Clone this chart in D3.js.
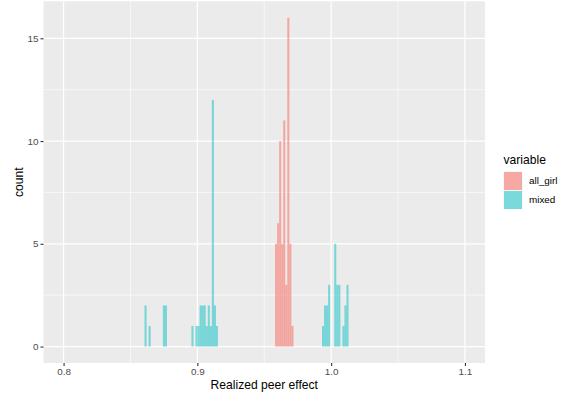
<!DOCTYPE html>
<html>
<head>
  <meta charset="utf-8">
  <title>Realized peer effect histogram</title>
  <script src="https://d3js.org/d3.v7.min.js"></script>
  <style>
    body { margin: 0; background: #fff; }
    text { font-family: "Liberation Sans", Arial, Helvetica, sans-serif; }
  </style>
</head>
<body>
  <script>
    // histogram bins (bins = 100 over the pooled data)
    var binStart = 0.8605;
    var binWidth = 0.001525;

    var allGirlBins   = [64, 65, 66, 67, 68, 69, 70, 71, 72];
    var allGirlCounts = [5, 6, 10, 5, 11, 3, 16, 5, 1];

    var mixedBins   = [0, 2, 9, 10,
                       23, 25, 26, 27, 28, 29, 30, 31, 32, 33, 34, 35,
                       87, 88, 89, 90, 93, 94, 95, 97, 98, 99];
    var mixedCounts = [2, 1, 2, 2,
                       1, 1, 1, 2, 2, 2, 1, 2, 1, 12, 2, 1,
                       1, 2, 2, 3, 5, 3, 3, 1, 2, 3];

    var seriesNames = ["all_girl", "mixed"];
    var seriesColors = ["#F8766D", "#00BFC4"];
    var seriesAlpha = [0.6, 0.5];

    var xTicks = [0.8, 0.9, 1.0, 1.1];
    var xMinor = [0.85, 0.95, 1.05];
    var yTicks = [0, 5, 10, 15];
    var yMinor = [2.5, 7.5, 12.5];

    var width = 562, height = 398;
    var panel = { left: 43.5, right: 485, top: 1.3, bottom: 363 };

    var svg = d3.select("body").append("svg")
      .attr("width", width).attr("height", height);

    var x = d3.scaleLinear().domain([0.785, 1.115]).range([panel.left, panel.right]);
    var y = d3.scaleLinear().domain([-0.8, 16.8]).range([panel.bottom, panel.top]);

    // panel background + grid
    svg.append("rect")
      .attr("x", panel.left).attr("y", panel.top)
      .attr("width", panel.right - panel.left).attr("height", panel.bottom - panel.top)
      .attr("fill", "#EBEBEB");

    var grid = svg.append("g");
    grid.selectAll(".xminor").data(xMinor).enter().append("line")
      .attr("x1", d => x(d)).attr("x2", d => x(d))
      .attr("y1", panel.top).attr("y2", panel.bottom)
      .attr("stroke", "#fff").attr("stroke-width", 0.6);
    grid.selectAll(".yminor").data(yMinor).enter().append("line")
      .attr("y1", d => y(d)).attr("y2", d => y(d))
      .attr("x1", panel.left).attr("x2", panel.right)
      .attr("stroke", "#fff").attr("stroke-width", 0.6);
    grid.selectAll(".xmajor").data(xTicks).enter().append("line")
      .attr("x1", d => x(d)).attr("x2", d => x(d))
      .attr("y1", panel.top).attr("y2", panel.bottom)
      .attr("stroke", "#fff").attr("stroke-width", 1.2);
    grid.selectAll(".ymajor").data(yTicks).enter().append("line")
      .attr("y1", d => y(d)).attr("y2", d => y(d))
      .attr("x1", panel.left).attr("x2", panel.right)
      .attr("stroke", "#fff").attr("stroke-width", 1.2);

    // bars
    function drawSeries(bins, counts, color, alpha) {
      var data = bins.map((b, i) => ({ x0: binStart + b * binWidth, x1: binStart + (b + 1) * binWidth, n: counts[i] }));
      svg.append("g").selectAll("rect").data(data).enter().append("rect")
        .attr("x", d => x(d.x0))
        .attr("width", d => x(d.x1) - x(d.x0))
        .attr("y", d => y(d.n))
        .attr("height", d => y(0) - y(d.n))
        .attr("fill", color)
        .attr("fill-opacity", alpha);
    }
    drawSeries(allGirlBins, allGirlCounts, seriesColors[0], seriesAlpha[0]);
    drawSeries(mixedBins, mixedCounts, seriesColors[1], seriesAlpha[1]);

    // axes
    var xAxis = svg.append("g")
      .attr("transform", "translate(0," + panel.bottom + ")")
      .call(d3.axisBottom(x).tickValues(xTicks).tickFormat(d3.format(".1f")).tickSize(3).tickPadding(2));
    var yAxis = svg.append("g")
      .attr("transform", "translate(" + panel.left + ",0)")
      .call(d3.axisLeft(y).tickValues(yTicks).tickSize(3).tickPadding(2));
    [xAxis, yAxis].forEach(function (a) {
      a.select(".domain").remove();
      a.selectAll(".tick line").attr("stroke", "#333333").attr("stroke-width", 1.1);
      a.selectAll(".tick text").attr("fill", "#4D4D4D")
        .style("font-size", "9.9px")
        .style("font-family", "'Liberation Sans', Arial, sans-serif");
    });

    // axis titles
    svg.append("text")
      .attr("x", (panel.left + panel.right) / 2).attr("y", 389)
      .attr("text-anchor", "middle").attr("font-size", "12.1px").attr("fill", "#000")
      .text("Realized peer effect");
    svg.append("text")
      .attr("transform", "translate(23," + ((panel.top + panel.bottom) / 2) + ") rotate(-90)")
      .attr("text-anchor", "middle").attr("font-size", "12.1px").attr("fill", "#000")
      .text("count");

    // legend
    var legend = svg.append("g").attr("transform", "translate(503.5,0)");
    legend.append("text")
      .attr("x", 0).attr("y", 164)
      .attr("font-size", "12.1px").attr("fill", "#000")
      .text("variable");
    var keys = legend.selectAll(".key").data(seriesNames).enter().append("g")
      .attr("transform", (d, i) => "translate(0," + (171.5 + i * 19) + ")");
    keys.append("rect")
      .attr("width", 19).attr("height", 19).attr("fill", "#F2F2F2");
    keys.append("rect")
      .attr("x", 0.5).attr("y", 0.5).attr("width", 18).attr("height", 18)
      .attr("fill", (d, i) => seriesColors[i]).attr("fill-opacity", (d, i) => seriesAlpha[i]);
    keys.append("text")
      .attr("x", 25.5).attr("y", 9.5).attr("dy", "0.35em")
      .attr("font-size", "9.9px").attr("fill", "#000")
      .text(d => d);
  </script>
</body>
</html>
